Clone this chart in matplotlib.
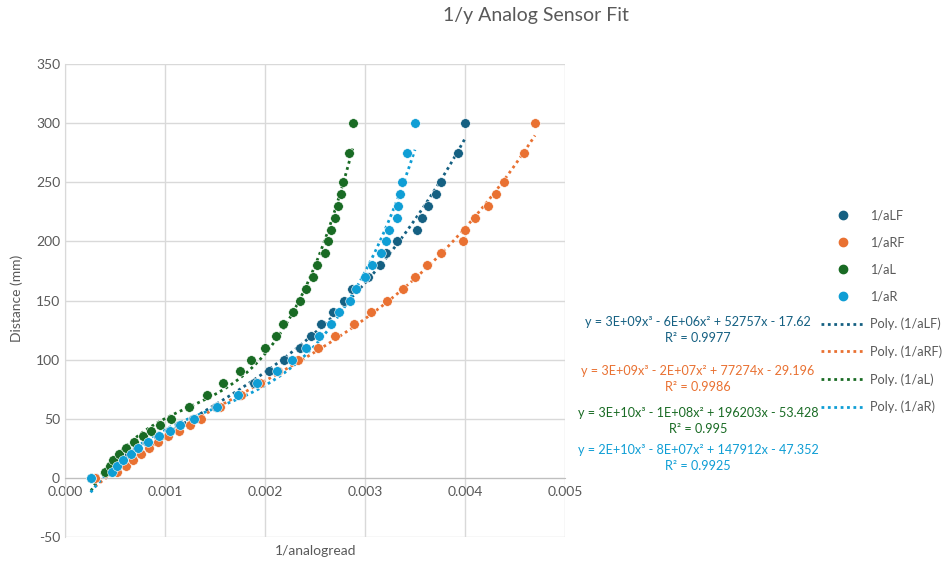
import matplotlib.pyplot as plt
from matplotlib.lines import Line2D
import numpy as np

plt.rcParams['font.family'] = ['Lato', 'DejaVu Sans']
plt.rcParams['axes.unicode_minus'] = False

# Distance (mm) measured for every series
distance = [0, 5, 10, 15, 20, 25, 30, 35, 40, 45, 50, 60, 70, 80, 90, 100, 110, 120,
            130, 140, 150, 160, 170, 180, 190, 200, 210, 220, 230, 240, 250, 275, 300]

# 1/analogread values
aLF = [0.00026, 0.00046, 0.00051, 0.00057, 0.00064, 0.00072, 0.00082, 0.00093, 0.00104,
       0.00114, 0.00128, 0.00151, 0.00175, 0.00189, 0.002043, 0.00219, 0.00235, 0.002457,
       0.002557, 0.002677, 0.00279, 0.002873, 0.003027, 0.00315, 0.003207, 0.003323,
       0.003523, 0.003567, 0.003627, 0.003707, 0.003757, 0.00393, 0.0040]
aRF = [0.00030, 0.000517, 0.000607, 0.000683, 0.00076, 0.000843, 0.000933, 0.001033,
       0.001143, 0.00125, 0.00136, 0.00155, 0.00176, 0.00195, 0.002133, 0.002333, 0.002527,
       0.0027, 0.00289, 0.003057, 0.003223, 0.003377, 0.0035, 0.003623, 0.00376, 0.003983,
       0.0040, 0.0041, 0.004233, 0.004307, 0.00439, 0.00459, 0.0047]
aL = [0.00026, 0.000405, 0.00045, 0.000485, 0.000545, 0.00061, 0.00069, 0.00078, 0.00086,
      0.000955, 0.00106, 0.00124, 0.00142, 0.00158, 0.00175, 0.00186, 0.0020, 0.00211,
      0.00218, 0.00228, 0.00235, 0.00241, 0.00248, 0.00252, 0.0026, 0.00263, 0.002665,
      0.0027, 0.00273, 0.002757, 0.002777, 0.002837, 0.002883]
aR = [0.000257, 0.00047, 0.00052, 0.000585, 0.000657, 0.000735, 0.000833, 0.00094, 0.00105,
      0.00115, 0.00129, 0.00152, 0.00173, 0.00192, 0.002117, 0.002273, 0.00241, 0.002543,
      0.002657, 0.00274, 0.00285, 0.002907, 0.003, 0.003067, 0.00316, 0.003207, 0.00324,
      0.003317, 0.003333, 0.00335, 0.003373, 0.003423, 0.0035]

names = ['1/aLF', '1/aRF', '1/aL', '1/aR']
colors = ['#156082', '#E97132', '#196B24', '#0F9ED5']
equations = ['y = 3E+09x³ - 6E+06x² + 52757x - 17.62\nR² = 0.9977',
             'y = 3E+09x³ - 2E+07x² + 77274x - 29.196\nR² = 0.9986',
             'y = 3E+10x³ - 1E+08x² + 196203x - 53.428\nR² = 0.995',
             'y = 2E+10x³ - 8E+07x² + 147912x - 47.352\nR² = 0.9925']
eq_y = [0.413, 0.326, 0.2525, 0.186]

fig = plt.figure(figsize=(9.47, 5.63), dpi=100)
ax = fig.add_axes([0.0686, 0.0462, 0.528, 0.840])

series = [aLF, aRF, aL, aR]
# trendlines first, then markers on top
for xs, c in zip(series, colors):
    coef = np.polyfit(xs, distance, 3)
    xt = np.linspace(min(xs), max(xs), 200)
    ax.plot(xt, np.polyval(coef, xt), ls=(0, (1, 1.3)), lw=2, color=c, zorder=2)
for xs, c in zip(series, colors):
    ax.scatter(xs, distance, s=48, color=c, edgecolors='white', linewidths=0.4, zorder=3)

ax.set_xlim(0, 0.005)
ax.set_ylim(-50, 350)
ax.set_xticks(np.arange(0, 0.0051, 0.001))
ax.set_yticks(np.arange(-50, 351, 50))
ax.xaxis.set_major_formatter(plt.FuncFormatter(lambda v, p: f'{v:.3f}'))
ax.grid(True, color='#d9d9d9', lw=1)
ax.set_axisbelow(True)
for s in ['top', 'right']:
    ax.spines[s].set_visible(False)
ax.spines['bottom'].set_position(('data', 0))
ax.spines['bottom'].set_color('#bfbfbf')
ax.spines['left'].set_color('#d9d9d9')
ax.tick_params(length=0, labelsize=10, colors='#595959')
ax.tick_params(axis='x', pad=6)

fig.text(0.566, 0.972, '1/y Analog Sensor Fit', ha='center', va='center',
         fontsize=14, color='#595959')
fig.text(0.333, 0.022, '1/analogread', ha='center', va='center', fontsize=10, color='#595959')
fig.text(0.018, 0.47, 'Distance (mm)', ha='center', va='center', rotation=90,
         fontsize=10, color='#595959')

for eq, c, y in zip(equations, colors, eq_y):
    fig.text(0.737, y, eq, ha='center', va='center', fontsize=9.1, color=c,
             linespacing=1.4)

handles = [Line2D([], [], ls='none', marker='o', ms=6, color=c) for c in colors]
handles += [Line2D([], [], ls=(0, (1, 1.3)), lw=2, color=c) for c in colors]
labels = names + [f'Poly. ({n})' for n in names]
fig.legend(handles, labels, loc='upper left', bbox_to_anchor=(0.862, 0.637),
           frameon=False, fontsize=9.2, labelcolor='#595959', handlelength=3.4,
           handletextpad=0.4, labelspacing=1.18, borderaxespad=0)

fig.savefig('out.png', dpi=100)
